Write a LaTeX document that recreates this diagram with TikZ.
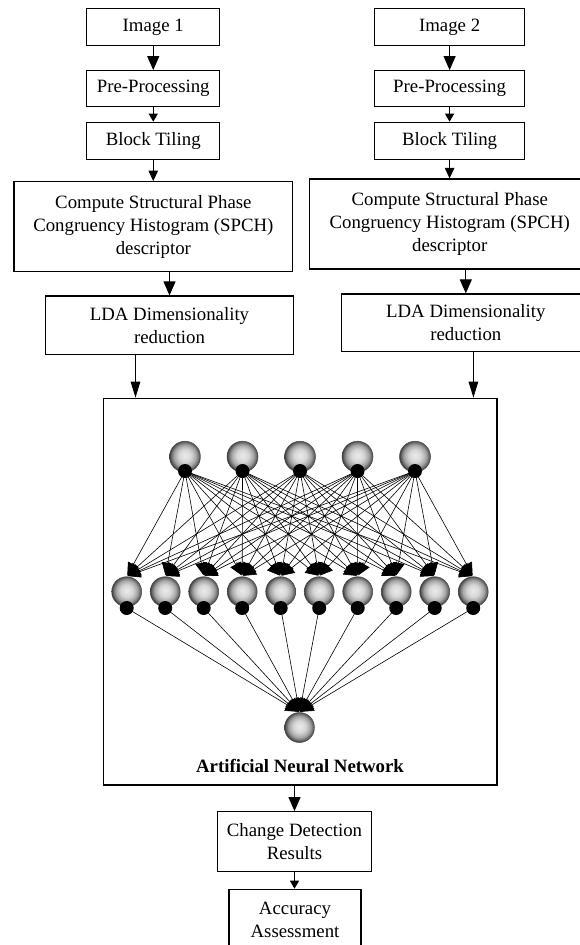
\documentclass[tikz,border=0pt]{standalone}
\usepackage{fontspec}
\setmainfont{Liberation Serif}
\usetikzlibrary{arrows.meta,backgrounds}

% grey sphere used for every neuron: light centre, darker rim
\pgfdeclareradialshading{neuronball}{\pgfpoint{0bp}{2bp}}{%
  color(0bp)=(black!8);
  color(10bp)=(black!16);
  color(18bp)=(black!36);
  color(23bp)=(black!62);
  color(25bp)=(black!78);
  color(50bp)=(black!78)}

\begin{document}
\begin{tikzpicture}[x=1pt,y=-1pt,
  txt/.style={font=\fontsize{18.8}{23}\selectfont},
  box/.style={txt, draw=black, line width=1.2pt, align=center, inner sep=0pt},
  flowbig/.style={line width=1.1pt, -{Triangle[length=14pt,width=12pt]}},
  flowmid/.style={line width=1.1pt, -{Triangle[length=10.5pt,width=9.5pt]}},
  flowlong/.style={line width=1.1pt, -{Triangle[length=16pt,width=9.5pt]}},
  flowsmall/.style={line width=1.1pt, -{Triangle[length=8pt,width=9pt]}},
  neuron/.style={circle, minimum size=31pt, inner sep=0pt, shading=neuronball, draw=black!70, line width=0.5pt},
  bias/.style={circle, minimum size=14pt, inner sep=0pt, fill=black},
  synapse/.style={line width=0.6pt, shorten >=1.2pt, -{Triangle[length=12.5pt,width=12pt]}},
  synapseout/.style={line width=0.6pt, shorten >=0.8pt, -{Triangle[length=13pt,width=13pt]}}
]
\useasboundingbox (0,0) rectangle (579,945);

% ---------- processing chain for the first image ----------
\node[box, minimum width=132.9pt, minimum height=37.4pt] (img1) at (153.25,27) {Image 1};
\node[box, minimum width=132.9pt, minimum height=36pt]   (pre1) at (153.25,88.7) {Pre-Processing};
\node[box, minimum width=132.9pt, minimum height=37pt]   (blk1) at (153.25,140.8) {Block Tiling};
\node[box, minimum width=278.8pt, minimum height=90pt]   (cmp1) at (153.4,226.7)
  {Compute Structural Phase\\Congruency Histogram (SPCH)\\descriptor};
\node[box, minimum width=248.2pt, minimum height=58.3pt] (lda1) at (169.5,325.15)
  {LDA Dimensionality\\reduction};

% ---------- processing chain for the second image ----------
\node[box, minimum width=149.6pt, minimum height=37.4pt] (img2) at (449.6,27) {Image 2};
\node[box, minimum width=149.6pt, minimum height=36pt]   (pre2) at (449.6,88.7) {Pre-Processing};
\node[box, minimum width=149.6pt, minimum height=37pt]   (blk2) at (449.6,140.8) {Block Tiling};
\node[box, minimum width=280.5pt, minimum height=90pt]   (cmp2) at (449.75,224)
  {Compute Structural Phase\\Congruency Histogram (SPCH)\\descriptor};
\node[box, minimum width=248.4pt, minimum height=57.7pt] (lda2) at (465.8,322.85)
  {LDA Dimensionality\\reduction};

% ---------- classifier and outputs ----------
\node[box, minimum width=393.5pt, minimum height=386.7pt] (ann) at (300.25,591.65) {};
\node[font=\bfseries\fontsize{18.8}{23}\selectfont] (annlabel) at (300,765.7) {Artificial Neural Network};
\node[box, minimum width=154.4pt, minimum height=60pt]   (chg) at (294.5,841.7) {Change Detection\\Results};
\node[box, minimum width=132pt, minimum height=60.7pt]   (acc) at (295,919.65) {Accuracy\\Assessment};

% ---------- flow arrows ----------
\draw[flowbig]   (img1) -- (pre1);
\draw[flowsmall] (pre1) -- (blk1);
\draw[flowmid]   (blk1.south) -- (blk1.south |- cmp1.north);
\draw[flowbig]   (lda1.north |- cmp1.south) -- (lda1.north);

\draw[flowbig]   (img2) -- (pre2);
\draw[flowsmall] (pre2) -- (blk2);
\draw[flowmid]   (blk2.south) -- (blk2.south |- cmp2.north);
\draw[flowbig]   (lda2.north |- cmp2.south) -- (lda2.north);

\coordinate (l1out) at (135.5,354.3);
\coordinate (l2out) at (473.4,351.7);
\draw[flowlong] (l1out) -- (l1out |- ann.north);
\draw[flowlong] (l2out) -- (l2out |- ann.north);

\draw[flowbig]   (ann.south -| chg.north) -- (chg.north);
\draw[flowsmall] (chg.south) -- (chg.south |- acc.north);

% ---------- network layers ----------
\foreach \i in {1,...,5} {
  \pgfmathsetmacro\xx{185+57.5*(\i-1)}
  \node[neuron] (in\i) at (\xx,456.7) {};
  \node[bias] (din\i) at (\xx,471) {};
}
\foreach \j in {1,...,10} {
  \pgfmathsetmacro\xx{126.7+38.5*(\j-1)}
  \node[neuron, minimum size=30pt] (hid\j) at (\xx,591.7) {};
  \node[bias] (dhid\j) at (\xx,608) {};
}
\node[neuron, minimum size=30pt] (out) at (299.5,727.5) {};

% ---------- weighted connections ----------
\begin{scope}[on background layer]
  \foreach \i in {1,...,5} {
    \foreach \j in {1,...,10} {
      \draw[synapse] (din\i.center) -- (hid\j.north);
    }
  }
  \foreach \j in {1,...,10} {
    \draw[synapseout] (dhid\j.center) -- (out.north);
  }
\end{scope}
\end{tikzpicture}
\end{document}
